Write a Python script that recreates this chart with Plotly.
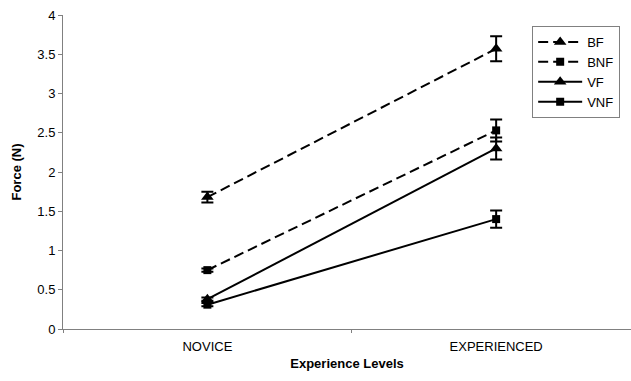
import plotly.graph_objects as go

categories = ["NOVICE", "EXPERIENCED"]
series_names = ["BF", "BNF", "VF", "VNF"]
bf = [1.68, 3.57]
bf_err = [0.07, 0.16]
bnf = [0.75, 2.53]
bnf_err = [0.02, 0.14]
vf = [0.38, 2.30]
vf_err = [0.02, 0.14]
vnf = [0.31, 1.40]
vnf_err = [0.02, 0.11]
y_ticks = [0, 0.5, 1, 1.5, 2, 2.5, 3, 3.5, 4]

styles = {
    "BF": dict(dash="10px,5px", symbol="triangle-up", size=11),
    "BNF": dict(dash="10px,5px", symbol="square", size=8),
    "VF": dict(dash="solid", symbol="triangle-up", size=11),
    "VNF": dict(dash="solid", symbol="square", size=8),
}
data = {"BF": (bf, bf_err), "BNF": (bnf, bnf_err), "VF": (vf, vf_err), "VNF": (vnf, vnf_err)}

fig = go.Figure()
for name in series_names:
    vals, errs = data[name]
    st = styles[name]
    fig.add_trace(go.Scatter(
        x=categories, y=vals, name=name, mode="lines+markers",
        line=dict(color="black", width=2, dash=st["dash"]),
        marker=dict(symbol=st["symbol"], size=st["size"], color="black"),
        error_y=dict(type="data", array=errs, visible=True, color="black", thickness=2, width=6),
    ))

font_family = "Liberation Sans, Arial, sans-serif"
fig.update_layout(
    width=631, height=381,
    margin=dict(l=63, r=0, t=15, b=52),
    paper_bgcolor="white", plot_bgcolor="white",
    font=dict(family=font_family, size=13, color="black"),
    showlegend=True,
    legend=dict(
        x=0.826, y=0.965, xanchor="left", yanchor="top",
        bgcolor="white", bordercolor="#808080", borderwidth=1,
        font=dict(family=font_family, size=13, color="black"),
        tracegroupgap=0, itemwidth=44,
    ),
    xaxis=dict(
        type="category", range=[-0.5, 1.467],
        showline=True, linecolor="#808080", linewidth=1,
        ticks="outside", tickson="boundaries", ticklen=3, tickcolor="#808080",
        showgrid=False, zeroline=False,
        tickfont=dict(family=font_family, size=13, color="black"),
        ticklabelstandoff=5,
        title=dict(text="<b>Experience Levels</b>", font=dict(family=font_family, size=13, color="black"), standoff=6),
    ),
    yaxis=dict(
        range=[0, 4], tickvals=y_ticks, ticktext=[f"{v:g}" for v in y_ticks],
        showline=True, linecolor="#808080", linewidth=1,
        ticks="outside", ticklen=4, tickcolor="#808080",
        showgrid=False, zeroline=False,
        tickfont=dict(family=font_family, size=13, color="black"),
        title=dict(text="<b>Force (N)</b>", font=dict(family=font_family, size=13, color="black"), standoff=12),
    ),
)

fig.write_html("out.html")
